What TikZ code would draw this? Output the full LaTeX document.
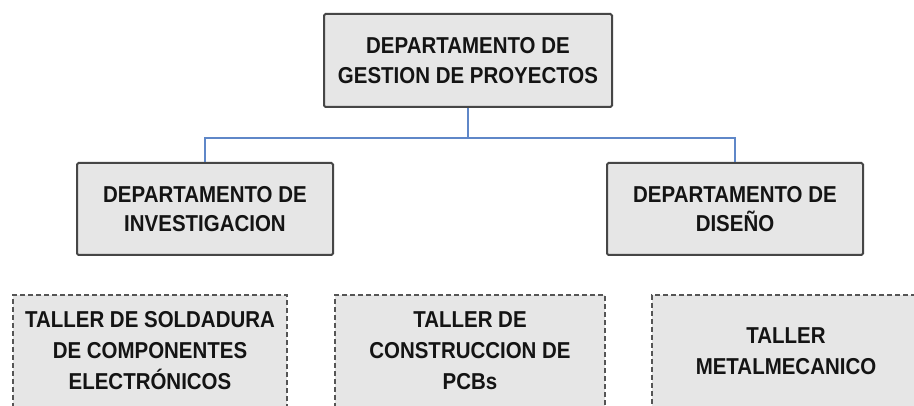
\documentclass[tikz,border=0pt]{standalone}
\usepackage{fontspec}
\setmainfont{Liberation Sans}[FakeStretch=0.89]
\definecolor{boxfill}{RGB}{230,230,230}
\definecolor{boxline}{RGB}{70,70,70}
\definecolor{dashline}{RGB}{85,85,85}
\definecolor{conncol}{RGB}{95,135,200}
\definecolor{txt}{RGB}{20,20,20}
\begin{document}
\begin{tikzpicture}[x=1pt,y=-1pt,
  solidbox/.style={draw=boxline, line width=2pt, fill=boxfill, rounded corners=1.5pt,
    align=center, inner sep=0pt, text=txt,
    font=\bfseries\fontsize{23}{29.5}\selectfont},
  dashbox/.style={draw=dashline, line width=1.4pt, dash pattern=on 5pt off 3pt, fill=boxfill,
    align=center, inner sep=0pt, text=txt,
    font=\bfseries\fontsize{23}{31}\selectfont},
  conn/.style={draw=conncol, line width=1.5pt}]
\useasboundingbox (0,0) rectangle (914,406);
\clip (0,0) rectangle (914,406);
\fill[white] (0,0) rectangle (914,406);

\node[solidbox, minimum width=288pt, minimum height=93pt] (top) at (468,60.5)
  {DEPARTAMENTO DE\\GESTION DE PROYECTOS};
\node[solidbox, minimum width=256pt, minimum height=92pt] (inv) at (205,209)
  {DEPARTAMENTO DE\\INVESTIGACION};
\node[solidbox, minimum width=256pt, minimum height=92pt] (dis) at (735,209)
  {DEPARTAMENTO DE\\DISEÑO};

\coordinate (bus) at (467,138);
\draw[conn] (top.south) -- (top.south |- bus) -| (inv.north);
\draw[conn] (top.south |- bus) -| (dis.north);

\node[dashbox, minimum width=274pt, minimum height=112pt] (t1) at (150,351)
  {TALLER DE SOLDADURA\\DE COMPONENTES\\ELECTRÓNICOS};
\node[dashbox, minimum width=270pt, minimum height=112pt] (t2) at (470,351)
  {TALLER DE\\CONSTRUCCION DE\\PCBs};
\node[dashbox, minimum width=268pt, minimum height=112pt] (t3) at (786,351)
  {TALLER\\METALMECANICO};
\end{tikzpicture}
\end{document}
